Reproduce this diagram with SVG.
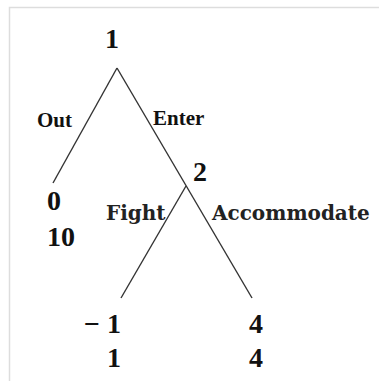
<svg xmlns="http://www.w3.org/2000/svg" width="379" height="381" viewBox="0 0 379 381">
<style>
.edge{stroke:#333;stroke-width:1.4;fill:none}
.num{font-family:"Liberation Serif",serif;font-weight:bold;font-size:28px;fill:#111}
.act{font-family:"Liberation Serif",serif;font-weight:bold;font-size:21px;fill:#111}
.act2{font-family:"DejaVu Serif",serif;font-weight:bold;font-size:20px;fill:#222}
</style>
<rect width="379" height="381" fill="#fff"/>
<path d="M9.5 381V7.5H379" stroke="#ddd" stroke-width="1.5" fill="none"/>
<g id="connectors">
<line class="edge" x1="117" y1="68" x2="53" y2="183"/>
<line class="edge" x1="117" y1="68" x2="252" y2="298"/>
<line class="edge" x1="186" y1="186" x2="121" y2="298"/>
<text class="act" x="37" y="127">Out</text>
<text class="act" x="153" y="125">Enter</text>
<text class="act2" x="106" y="220">Fight</text>
<text class="act2" x="212" y="220">Accommodate</text>
</g>
<g id="node1"><text class="num" x="105" y="48">1</text></g>
<g id="node2"><text class="num" x="193" y="181">2</text></g>
<g id="leafOut"><text class="num" x="47" y="210">0</text><text class="num" x="47" y="246">10</text></g>
<g id="leafFight"><text class="num" x="121" y="333" text-anchor="end">− 1</text><text class="num" x="121" y="367" text-anchor="end">1</text></g>
<g id="leafAcc"><text class="num" x="249" y="333">4</text><text class="num" x="249" y="367">4</text></g>
</svg>
